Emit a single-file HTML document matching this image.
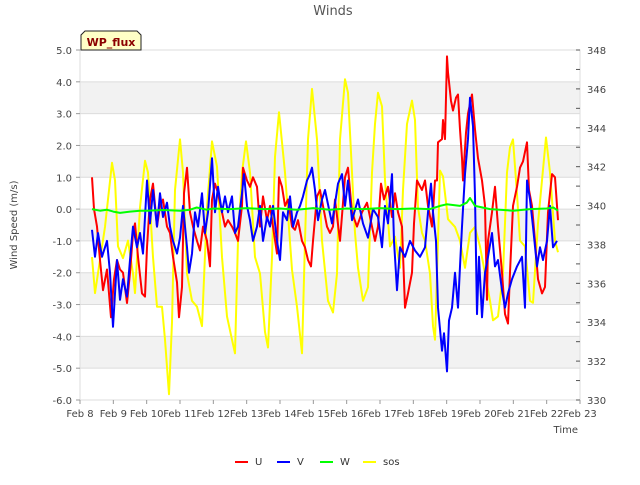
<!DOCTYPE html>
<html><head><meta charset="utf-8"><style>
body{margin:0;background:#fff;}
svg text{font-family:"DejaVu Sans","Liberation Sans",sans-serif;}
</style></head><body>
<svg id="chart" width="640" height="480" xmlns="http://www.w3.org/2000/svg">
<text x="333" y="15" text-anchor="middle" font-size="13" fill="#555">Winds</text>
<g id="bands"></g>
<rect x="80" y="50" width="500" height="350" fill="none" stroke="#ddd"/>
<g id="axes"></g>
<g id="series"></g>
<text transform="translate(17,225) rotate(-90)" text-anchor="middle" font-size="10" fill="#444">Wind Speed (m/s)</text>
<text x="578" y="433" text-anchor="end" font-size="10" fill="#444">Time</text>
<g>
<path d="M81,50 L81,35 L85,31 L137,31 L141,35 L141,50 Z" fill="#ffffc6" stroke="#222" stroke-width="1"/>
<text x="111" y="46" text-anchor="middle" font-size="11" font-weight="bold" fill="#8b0000">WP_flux</text>
</g>
<g id="legend"></g>
</svg>
<script>
const uT=[0.36,0.42,0.51,0.6,0.69,0.81,0.93,1.02,1.11,1.2,1.29,1.41,1.5,1.59,1.65,1.74,1.86,1.95,2.01,2.1,2.19,2.31,2.4,2.49,2.61,2.7,2.79,2.91,2.97,3.06,3.12,3.21,3.3,3.39,3.51,3.6,3.69,3.81,3.9,3.96,4.05,4.14,4.26,4.35,4.44,4.56,4.65,4.74,4.86,4.89,5.01,5.1,5.19,5.31,5.4,5.49,5.61,5.7,5.79,5.91,5.97,6.06,6.15,6.24,6.36,6.45,6.54,6.66,6.75,6.84,6.93,6.99,7.11,7.2,7.29,7.41,7.5,7.59,7.65,7.8,7.95,8.04,8.16,8.31,8.46,8.61,8.76,8.85,8.94,9.03,9.12,9.24,9.36,9.45,9.54,9.66,9.75,9.84,9.96,10.02,10.11,10.26,10.35,10.44,10.56,10.65,10.71,10.74,10.86,10.89,10.95,11.01,11.04,11.13,11.19,11.28,11.34,11.4,11.46,11.49,11.58,11.64,11.76,11.85,11.94,12.06,12.15,12.21,12.24,12.36,12.45,12.54,12.66,12.75,12.84,12.9,12.99,13.11,13.2,13.29,13.41,13.47,13.56,13.65,13.74,13.86,13.95,14.04,14.16,14.25,14.34];
const uV=[1.0,0.0,-0.55,-1.6,-2.55,-1.9,-3.4,-2.2,-1.6,-1.9,-2.0,-2.95,-2.0,-0.75,-0.45,-1.5,-2.65,-2.75,-1.2,0.3,0.8,-0.55,0.1,0.3,-0.55,-0.75,-1.5,-2.3,-3.4,-2.45,0.5,1.3,-0.1,-0.55,-1.0,-1.3,-0.55,-1.0,-1.8,0.3,0.8,0.5,-0.1,-0.55,-0.35,-0.55,-0.75,-1.0,0.1,1.3,0.9,0.7,1.0,0.7,-0.55,0.4,-0.35,0.1,-0.55,-1.4,1.0,0.7,0.1,0.3,-0.55,-0.65,-0.35,-1.0,-1.2,-1.6,-1.8,-1.0,0.4,0.6,0.1,-0.55,-0.75,-0.55,0.3,-1.0,1.0,1.3,-0.1,-0.55,-0.1,0.2,-0.55,-1.0,-0.55,0.8,0.3,0.7,-0.25,0.5,-0.1,-0.55,-3.1,-2.65,-2.0,-0.45,0.9,0.6,0.9,0.1,-0.55,0.9,0.9,2.1,2.2,2.8,2.2,4.8,4.3,3.4,3.1,3.5,3.6,2.5,1.6,0.9,2.4,3.0,3.6,2.5,1.6,0.9,0.1,-2.85,-1.0,-0.1,0.7,-0.55,-2.0,-3.3,-3.6,-2.0,0.1,0.7,1.3,1.5,2.1,0.6,0.1,-1.0,-2.2,-2.65,-2.45,-0.1,1.1,1.0,-0.35];
const vT=[0.36,0.45,0.54,0.66,0.81,0.9,0.99,1.11,1.2,1.29,1.41,1.5,1.59,1.71,1.8,1.89,2.01,2.1,2.19,2.31,2.4,2.49,2.61,2.7,2.79,2.91,3.0,3.09,3.21,3.27,3.36,3.45,3.54,3.66,3.75,3.84,3.96,4.05,4.14,4.26,4.35,4.44,4.56,4.65,4.74,4.86,4.92,5.01,5.1,5.19,5.31,5.4,5.49,5.61,5.7,5.79,5.91,6.0,6.09,6.21,6.3,6.39,6.51,6.6,6.69,6.81,6.9,6.96,7.05,7.14,7.26,7.35,7.56,7.74,7.86,7.95,8.04,8.16,8.34,8.49,8.64,8.79,8.94,9.06,9.15,9.24,9.36,9.42,9.51,9.6,9.75,9.9,10.05,10.2,10.35,10.44,10.53,10.59,10.68,10.74,10.86,10.92,11.01,11.07,11.16,11.25,11.34,11.4,11.46,11.55,11.64,11.7,11.79,11.85,11.91,11.97,12.06,12.15,12.24,12.36,12.45,12.54,12.66,12.75,12.84,12.96,13.11,13.26,13.35,13.41,13.5,13.59,13.71,13.8,13.89,14.01,14.1,14.19,14.31];
const vV=[-0.65,-1.5,-0.75,-1.5,-1.0,-2.0,-3.7,-1.6,-2.85,-2.2,-2.75,-1.6,-0.55,-1.2,-0.75,-1.4,0.9,-0.45,0.6,-0.55,0.5,-0.25,0.2,-0.55,-1.0,-1.4,-0.9,0.1,-1.2,-2.0,-1.4,-0.1,-0.55,0.5,-0.75,-0.1,1.6,-0.1,0.7,-0.1,0.4,-0.1,0.4,-0.75,-0.55,0.5,1.1,0.1,-0.35,-1.0,-0.55,0.1,-1.0,-0.25,-0.55,0.1,-1.0,-1.6,-0.1,-0.35,0.4,-0.55,-0.1,0.1,0.4,0.9,1.1,1.3,0.6,-0.35,0.3,0.6,-0.45,0.8,1.1,0.1,0.9,-0.35,0.3,-0.45,-0.9,0.0,-0.25,-1.2,0.1,-0.45,1.1,-1.0,-2.55,-1.2,-1.5,-1.0,-1.3,-1.5,-1.2,-0.1,0.8,-0.1,-1.0,-3.1,-4.45,-3.9,-5.1,-3.5,-3.1,-2.0,-3.1,-1.8,-0.55,1.1,2.2,3.5,2.6,0.4,-3.3,-1.5,-3.4,-2.0,-1.5,-0.75,-1.8,-1.6,-2.55,-3.1,-2.65,-2.2,-1.8,-1.5,-3.1,0.9,0.3,-0.55,-1.8,-1.2,-1.6,-1.0,0.1,-1.2,-1.0];
const wT=[0.36,0.6,0.8,1.0,1.2,1.5,1.8,2.0,2.5,3.0,3.3,3.5,3.8,4.0,4.5,5.0,5.5,6.0,6.5,7.0,7.5,8.0,8.5,9.0,9.5,10.0,10.5,10.8,11.0,11.4,11.6,11.7,11.85,12.3,13.0,13.5,14.0,14.2,14.34];
const wV=[0.0,-0.05,-0.02,-0.08,-0.12,-0.08,-0.05,-0.05,-0.03,-0.05,-0.02,0.05,-0.02,0.02,0.0,0.03,0.0,0.02,-0.02,0.03,-0.02,0.02,0.0,0.03,0.0,0.02,0.0,0.1,0.15,0.1,0.2,0.35,0.1,0.0,-0.05,0.0,0.02,0.05,-0.05];
const sT=[0.36,0.45,0.75,0.96,1.05,1.14,1.29,1.44,1.59,1.65,1.8,1.95,2.04,2.19,2.31,2.46,2.55,2.67,2.76,2.85,3.0,3.09,3.21,3.36,3.51,3.66,3.81,3.96,4.11,4.26,4.41,4.56,4.65,4.74,4.86,4.98,5.1,5.25,5.4,5.55,5.64,5.76,5.85,5.97,6.15,6.36,6.51,6.66,6.75,6.84,6.96,7.11,7.26,7.44,7.59,7.71,7.8,7.95,8.04,8.16,8.25,8.34,8.49,8.64,8.76,8.85,8.94,9.06,9.15,9.3,9.45,9.6,9.69,9.81,9.96,10.05,10.14,10.26,10.35,10.5,10.59,10.65,10.74,10.8,10.89,11.04,11.25,11.4,11.55,11.7,11.85,12.0,12.15,12.3,12.39,12.54,12.69,12.81,12.9,12.99,13.11,13.2,13.35,13.5,13.59,13.74,13.86,13.98,14.1,14.25,14.34];
const sV=[337.35,335.5,338.9,342.2,341.3,337.9,337.3,338.2,336.5,335.5,339.9,342.3,341.7,337.35,334.8,334.8,333.1,330.3,334.0,340.8,343.4,341.7,336.5,335.1,334.8,333.8,339.9,343.3,342.0,337.35,334.3,333.1,332.4,338.2,341.7,343.3,341.7,337.35,336.5,333.5,332.7,337.35,342.5,344.8,341.7,336.7,334.8,332.4,338.2,343.4,346.0,343.4,338.2,335.1,334.5,336.5,343.4,346.5,345.8,341.7,338.6,336.8,335.1,335.8,341.7,344.2,345.8,345.1,341.3,337.9,338.4,336.8,340.8,344.2,345.4,344.4,339.9,338.6,338.2,336.5,333.8,333.1,338.2,341.8,341.5,339.3,338.9,338.2,336.8,338.6,338.9,337.9,336.5,335.1,334.1,334.3,336.5,341.7,343.0,343.4,340.6,338.2,337.9,335.1,335.0,339.1,341.3,343.5,341.7,338.2,337.6];
const leftTicks=[5,4,3,2,1,0,-1,-2,-3,-4,-5,-6];
const rightTicks=[330,332,334,336,338,340,342,344,346,348];
const dayLabels=["Feb 8","Feb 9","Feb 10","Feb 11","Feb 12","Feb 13","Feb 14","Feb 15","Feb 16","Feb 17","Feb 18","Feb 19","Feb 20","Feb 21","Feb 22","Feb 23"];

const NS="http://www.w3.org/2000/svg";
const X0=80,X1=580,Y0=50,Y1=400;
const xs=t=>X0+t*(X1-X0)/15;
const yl=v=>Y0+(5-v)*(Y1-Y0)/11;
const yr=v=>Y0+(348-v)*(Y1-Y0)/18;
function mk(tag,attrs,parent){const e=document.createElementNS(NS,tag);for(const k in attrs)e.setAttribute(k,attrs[k]);parent.appendChild(e);return e;}
const bands=document.getElementById('bands'),axes=document.getElementById('axes'),series=document.getElementById('series'),legend=document.getElementById('legend');
[4,2,0,-2,-4].forEach(v=>{
  const r=mk('rect',{x:X0,y:yl(v),width:X1-X0,height:yl(v-1)-yl(v),fill:'#f2f2f2'},bands);
  
  
});
leftTicks.forEach(v=>{
  const l=mk('line',{x1:X0,x2:X1,y1:yl(v),y2:yl(v),stroke:'#dcdcdc'},axes);
  
  
  const tk=mk('line',{x1:X0-4,x2:X0,y1:yl(v),y2:yl(v),stroke:'#999'},axes);
  
  
  const t=mk('text',{x:X0-8,y:yl(v)+4,'text-anchor':'end','font-size':'10',fill:'#444'},axes);
  t.textContent=v.toFixed(1);
  
  
});
for(let v=330;v<=348;v++){
  const tk=mk('line',{x1:X1-4,x2:X1,y1:yr(v),y2:yr(v),stroke:'#555'},axes);
  
  
}
rightTicks.forEach(v=>{
  const t=mk('text',{x:X1+7,y:yr(v)+4,'font-size':'10',fill:'#444'},axes);
  t.textContent=v;
  
  
});
dayLabels.forEach((d,i)=>{
  const tk=mk('line',{x1:xs(i),x2:xs(i),y1:Y1,y2:Y1+4,stroke:'#999'},axes);
  
  
  const t=mk('text',{x:xs(i),y:Y1+17,'text-anchor':'middle','font-size':'10',fill:'#444'},axes);
  t.textContent=d;
  
  
});
function line(T,V,yf,color,name){
  const d=T.map((t,i)=>(i?'L':'M')+xs(t).toFixed(1)+','+yf(V[i]).toFixed(1)).join(' ');
  const p=mk('path',{d:d,fill:'none',stroke:color,'stroke-width':'2','stroke-linejoin':'round'},series);
  
  
}
line(sT,sV,yr,'#ffff00','sos-line');
line(uT,uV,yl,'#ff0000','u-line');
line(vT,vV,yl,'#0000ff','v-line');
line(wT,wV,yl,'#00ff00','w-line');
const leg=[['U','#ff0000',235],['V','#0000ff',277],['W','#00ff00',320],['sos','#ffff00',363]];
leg.forEach(([n,c,x])=>{
  const g=mk('g',{},legend);
  
  
  mk('line',{x1:x,x2:x+13,y1:462,y2:462,stroke:c,'stroke-width':'2'},g);
  const t=mk('text',{x:x+20,y:465,'font-size':'10',fill:'#333'},g);
  t.textContent=n;
});
</script>
</body></html>
